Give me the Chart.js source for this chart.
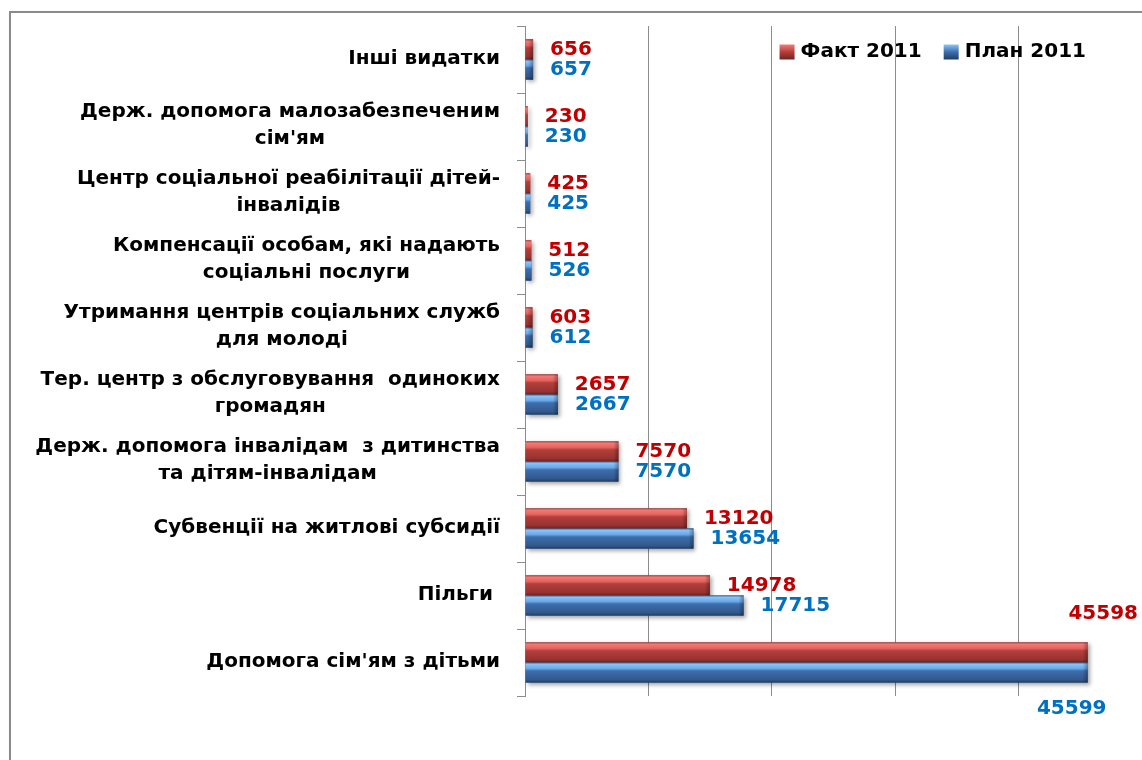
<!DOCTYPE html>
<html>
<head>
<meta charset="utf-8">
<script src="https://cdn.jsdelivr.net/npm/chart.js@4.4.0/dist/chart.umd.min.js"></script>
<style>
  html, body { margin: 0; padding: 0; background: #fff; overflow: hidden; }
  #wrap { position: relative; width: 1142px; height: 760px; }
  #frame {
    position: absolute; left: 9px; top: 11px; width: 1200px; height: 800px;
    border: 2px solid #8a8a8a; box-shadow: 1px 1px 2px rgba(0,0,0,0.25);
  }
  #cv { position: absolute; left: 0; top: 0; }
</style>
</head>
<body>
<div id="wrap">
  <div id="frame"></div>
  <canvas id="cv" width="1142" height="760"></canvas>
</div>
<script>
// categories top to bottom
const categories = [
    ['Інші видатки'],
    ['Держ. допомога малозабезпеченим', "сім'ям"],
    ['Центр соціальної реабілітації дітей-', 'інвалідів'],
    ['Компенсації особам, які надають', 'соціальні послуги'],
    ['Утримання центрів соціальних служб', 'для молоді'],
    ['Тер. центр з обслуговування  одиноких', 'громадян'],
    ['Держ. допомога інвалідам  з дитинства', 'та дітям-інвалідам'],
    ['Субвенції на житлові субсидії'],
    ['Пільги '],
    ["Допомога сім'ям з дітьми"]
];
const fact2011 = [656, 230, 425, 512, 603, 2657, 7570, 13120, 14978, 45598];
const plan2011 = [657, 230, 425, 526, 612, 2667, 7570, 13654, 17715, 45599];
const seriesNames = ['Факт 2011', 'План 2011'];
const xMin = 0, xMax = 50000, xStep = 10000;

const FONT = 'DejaVu Sans';
const labelColors = ['#c00000', '#0070c0'];
// bar shading, top to bottom
const shades = [
    ['#9a3431', '#f27c78', '#e5625e', '#b33f3b', '#973230', '#6e2321'],
    ['#2f5a8e', '#8cc4f6', '#6aa7e8', '#3d6eac', '#31598d', '#213d62']
];

const barLook = {
    id: 'barLook',
    afterDatasetsDraw(chart) {
        const ctx = chart.ctx;
        chart.data.datasets.forEach((ds, d) => {
            chart.getDatasetMeta(d).data.forEach(el => {
                const top = el.y - el.height / 2;
                const h = el.height;
                const left = el.base, w = el.x - el.base;
                const g = ctx.createLinearGradient(0, top, 0, top + h);
                const c = shades[d];
                g.addColorStop(0, c[0]);
                g.addColorStop(0.08, c[1]);
                g.addColorStop(0.3, c[2]);
                g.addColorStop(0.42, c[3]);
                g.addColorStop(0.85, c[4]);
                g.addColorStop(1, c[5]);
                ctx.save();
                ctx.shadowColor = 'rgba(0,0,0,0.35)';
                ctx.shadowBlur = 4;
                ctx.shadowOffsetX = 2;
                ctx.shadowOffsetY = 2;
                ctx.fillStyle = g;
                ctx.fillRect(left, top, w, h);
                ctx.restore();
                // darker end cap
                if (w > 6) {
                    const eg = ctx.createLinearGradient(el.x - 5, 0, el.x, 0);
                    eg.addColorStop(0, 'rgba(0,0,0,0)');
                    eg.addColorStop(1, 'rgba(0,0,0,0.3)');
                    ctx.fillStyle = eg;
                    ctx.fillRect(el.x - 5, top, 5, h);
                }
            });
        });
    },
    afterDraw(chart) {
        const ctx = chart.ctx;
        const ys = chart.scales.y;
        ctx.save();
        // category labels: block right aligned, lines centred
        ctx.font = 'bold 20px "' + FONT + '"';
        ctx.fillStyle = '#000';
        ctx.textAlign = 'center';
        ctx.textBaseline = 'middle';
        const rightEdge = ys.right - 25;
        categories.forEach((lines, i) => {
            const yc = ys.getPixelForTick(i);
            const w = Math.max(...lines.map(l => ctx.measureText(l).width));
            const cx = rightEdge - w / 2;
            lines.forEach((l, k) => {
                ctx.fillText(l, cx, yc + (k - (lines.length - 1) / 2) * 27 - 1);
            });
        });
        // value labels
        ctx.font = 'bold 20px "' + FONT + '"';
        chart.data.datasets.forEach((ds, d) => {
            ctx.fillStyle = labelColors[d];
            chart.getDatasetMeta(d).data.forEach((el, i) => {
                const txt = String(ds.data[i]);
                const tw = ctx.measureText(txt).width;
                if (el.x + 16 + tw > chart.width - 2) {
                    if (d === 0) {
                        ctx.textAlign = 'right';
                        ctx.fillText(txt, chart.width - 4, el.y - 39);
                    } else {
                        ctx.textAlign = 'center';
                        ctx.fillText(txt, el.x - 16, el.y + 36);
                    }
                } else {
                    ctx.textAlign = 'left';
                    ctx.fillText(txt, el.x + 17, el.y);
                }
            });
        });
        // legend
        ctx.font = 'bold 20px "' + FONT + '"';
        const box = 15, gapText = 6, gapItem = 22;
        const widths = seriesNames.map(n => ctx.measureText(n).width);
        let x = 1086 - widths.reduce((a, b) => a + b, 0) - seriesNames.length * (box + gapText) - gapItem;
        const ly = 52;
        seriesNames.forEach((n, d) => {
            const g = ctx.createLinearGradient(0, ly - box / 2, 0, ly + box / 2);
            g.addColorStop(0, shades[d][1]);
            g.addColorStop(0.5, shades[d][3]);
            g.addColorStop(1, shades[d][5]);
            ctx.fillStyle = g;
            ctx.fillRect(x, ly - box / 2, box, box);
            ctx.fillStyle = '#000';
            ctx.textAlign = 'left';
            ctx.fillText(n, x + box + gapText, ly);
            x += box + gapText + widths[d] + gapItem;
        });
        ctx.restore();
    }
};

new Chart(document.getElementById('cv'), {
    type: 'bar',
    data: {
        labels: categories,
        datasets: [{
            label: seriesNames[0],
            data: fact2011,
            backgroundColor: '#c0504d'
        }, {
            label: seriesNames[1],
            data: plan2011,
            backgroundColor: '#4f81bd'
        }]
    },
    options: {
        indexAxis: 'y',
        responsive: false,
        animation: false,
        layout: { padding: { top: 26, bottom: 64, left: 0, right: 0 } },
        datasets: {
            bar: { categoryPercentage: 0.6, barPercentage: 1.0 }
        },
        scales: {
            x: {
                min: xMin,
                max: xMax,
                ticks: { display: false, stepSize: xStep },
                grid: { color: '#8c8c8c', lineWidth: 1, drawTicks: false },
                border: { display: false },
                afterFit: s => { s.height = 0; }
            },
            y: {
                ticks: { display: false },
                grid: { drawOnChartArea: false, offset: true, tickLength: 8, color: '#8c8c8c' },
                border: { color: '#8c8c8c', width: 1 },
                afterFit: s => { s.width = 525; }
            }
        },
        plugins: {
            legend: { display: false },
            tooltip: { enabled: false }
        }
    },
    plugins: [barLook]
});
</script>
</body>
</html>
